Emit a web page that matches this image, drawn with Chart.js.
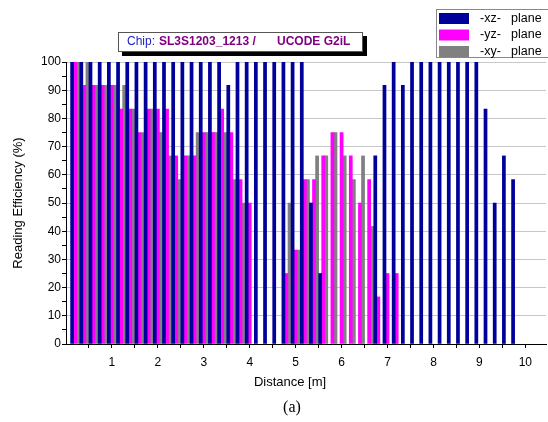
<!DOCTYPE html>
<html>
<head>
<meta charset="utf-8">
<script src="https://cdn.jsdelivr.net/npm/chart.js@4.4.0/dist/chart.umd.min.js"></script>
<style>
  html, body { margin: 0; padding: 0; background: #fff; }
  #wrap { width: 548px; height: 422px; }
</style>
</head>
<body>
<div id="wrap"><canvas id="readChart" width="548" height="422"></canvas></div>
<script>
// bar group positions, distance [m]
const distances = [0.2, 0.4, 0.6, 0.8, 1.0, 1.2, 1.4, 1.6, 1.8, 2.0,
                   2.2, 2.4, 2.6, 2.8, 3.0, 3.2, 3.4, 3.6, 3.8, 4.0,
                   4.2, 4.4, 4.6, 4.8, 5.0, 5.2, 5.4, 5.6, 5.8, 6.0,
                   6.2, 6.4, 6.6, 6.8, 7.0, 7.2, 7.4, 7.6, 7.8, 8.0,
                   8.2, 8.4, 8.6, 8.8, 9.0, 9.2, 9.4, 9.6, 9.8];

// reading efficiency (%) per plane
const xzPlane = [100, 100, 100, 100, 100, 100, 100, 100, 100, 100,
                 100, 100, 100, 100, 100, 100, 100, 91.7, 100, 100,
                 100, 100, 100, 100, 100, 100, 50, 25, null, null,
                 null, null, null, 66.7, 91.7, 100, 91.7, 100, 100, 100,
                 100, 100, 100, 100, 100, 83.3, 50, 66.7, 58.3];
const yzPlane = [100, 91.7, 91.7, 91.7, 91.7, 83.3, 83.3, 75, 83.3, 83.3,
                 83.3, 66.7, 66.7, 66.7, 75, 75, 83.3, 75, 58.3, 50,
                 null, null, null, 25, 33.3, 58.3, 58.3, 66.7, 75, 75,
                 66.7, 50, 58.3, 16.7, 25, 25, null, null, null, null,
                 null, null, null, null, null, null, null, null, null];
const xyPlane = [100, 100, 91.7, 91.7, 91.7, 91.7, 83.3, 75, 83.3, 75,
                 66.7, 58.3, 66.7, 75, 75, 75, 75, 58.3, 50, null,
                 null, null, null, 50, 33.3, 58.3, 66.7, 66.7, 75, 66.7,
                 58.3, 66.7, 41.7, null, null, null, null, null, null, null,
                 null, null, null, null, null, null, null, null, null];

const xTickLabels = [1, 2, 3, 4, 5, 6, 7, 8, 9, 10];
const yTickLabels = [0, 10, 20, 30, 40, 50, 60, 70, 80, 90, 100];

const seriesNames = ['-xz-  plane', '-yz-  plane', '-xy-  plane'];
const seriesColors = ['#00009a', '#ff00ff', '#808080'];

const sans = '"Liberation Sans", Arial, sans-serif';
Chart.defaults.font.family = sans;
Chart.defaults.font.size = 12;
Chart.defaults.color = '#000';

function toPoints(values) {
    return distances.map((d, i) => ({ x: d, y: values[i] }));
}

// title box, legend box, x title and caption
const decorPlugin = {
    id: 'decor',
    afterDraw(chart) {
        const ctx = chart.ctx;
        ctx.save();

        // chip title with shadow
        ctx.fillStyle = '#000';
        ctx.fillRect(122, 36, 245, 20);
        ctx.fillStyle = '#fff';
        ctx.fillRect(118, 32, 245, 20);
        ctx.strokeStyle = '#555';
        ctx.lineWidth = 1;
        ctx.strokeRect(118.5, 32.5, 244, 19);
        ctx.textBaseline = 'middle';
        ctx.textAlign = 'left';
        ctx.font = '12px ' + sans;
        ctx.fillStyle = '#2222c0';
        ctx.fillText('Chip:', 127, 42);
        let x = 127 + ctx.measureText('Chip:').width + 4;
        ctx.font = 'bold 12px ' + sans;
        ctx.fillStyle = '#800080';
        ctx.fillText('SL3S1203_1213 /', x, 42);
        x += ctx.measureText('SL3S1203_1213 /').width + 18;
        ctx.fillText('UCODE G2iL', Math.max(x, 277), 42);

        // legend
        ctx.fillStyle = '#fff';
        ctx.fillRect(436, 9, 112, 49);
        ctx.strokeStyle = '#888';
        ctx.strokeRect(436.5, 9.5, 112, 48);
        ctx.font = '12.5px ' + sans;
        seriesNames.forEach((name, i) => {
            const y = 13 + i * 16.5;
            ctx.fillStyle = seriesColors[i];
            ctx.fillRect(439, y, 30, 11);
            ctx.fillStyle = '#000';
            ctx.fillText(name.split('  ')[0], 480, y + 5.5);
            ctx.fillText(name.split('  ')[1], 511, y + 5.5);
        });

        // x axis title
        ctx.textAlign = 'center';
        ctx.font = '13px ' + sans;
        ctx.fillText('Distance [m]', 290, 382);

        // caption
        ctx.font = '16px "Liberation Serif", "Times New Roman", serif';
        ctx.fillText('(a)', 292, 408);
        ctx.restore();
    }
};

const ctx = document.getElementById('readChart').getContext('2d');

new Chart(ctx, {
    type: 'bar',
    data: {
        datasets: [
            { label: seriesNames[0], data: toPoints(xzPlane), backgroundColor: seriesColors[0] },
            { label: seriesNames[1], data: toPoints(yzPlane), backgroundColor: seriesColors[1] },
            { label: seriesNames[2], data: toPoints(xyPlane), backgroundColor: seriesColors[2] },
        ],
    },
    options: {
        responsive: false,
        animation: false,
        devicePixelRatio: 1,
        layout: { padding: { top: 62, right: 2, bottom: 0, left: 0 } },
        datasets: {
            bar: { barPercentage: 1, categoryPercentage: 1, borderWidth: 0 },
        },
        plugins: {
            legend: { display: false },
            tooltip: { enabled: false },
        },
        scales: {
            x: {
                type: 'linear',
                min: 0,
                max: 10.45,
                offset: false,
                afterFit: s => { s.height = 78; },
                afterBuildTicks: s => {
                    const t = [];
                    xTickLabels.forEach(v => { t.push({ value: v - 0.5 }, { value: v }); });
                    s.ticks = t;
                },
                ticks: {
                    autoSkip: false,
                    maxRotation: 0,
                    padding: 7,
                    callback: v => (xTickLabels.includes(v) ? String(v) : ''),
                },
                grid: { offset: false, drawOnChartArea: false, tickLength: 4, tickColor: '#000' },
                border: { color: '#000', width: 1 },
            },
            y: {
                min: 0,
                max: 100,
                afterFit: s => { s.width = 66; },
                afterBuildTicks: s => {
                    const t = [];
                    yTickLabels.forEach(v => {
                        t.push({ value: v });
                        if (v < 100) t.push({ value: v + 5 });
                    });
                    s.ticks = t;
                },
                ticks: {
                    autoSkip: false,
                    padding: 1,
                    callback: v => (yTickLabels.includes(v) ? String(v) : ''),
                },
                grid: {
                    tickLength: 4,
                    tickColor: '#000',
                    color: c => (c.tick && c.tick.value % 10 === 0 && c.tick.value > 0 ? '#c8c8c8' : 'rgba(0,0,0,0)'),
                },
                border: { color: '#000', width: 1 },
                title: {
                    display: true,
                    text: 'Reading Efficiency (%)',
                    font: { size: 13 },
                    padding: { top: 11, bottom: 0 },
                },
            },
        },
    },
    plugins: [decorPlugin],
});
</script>
</body>
</html>
